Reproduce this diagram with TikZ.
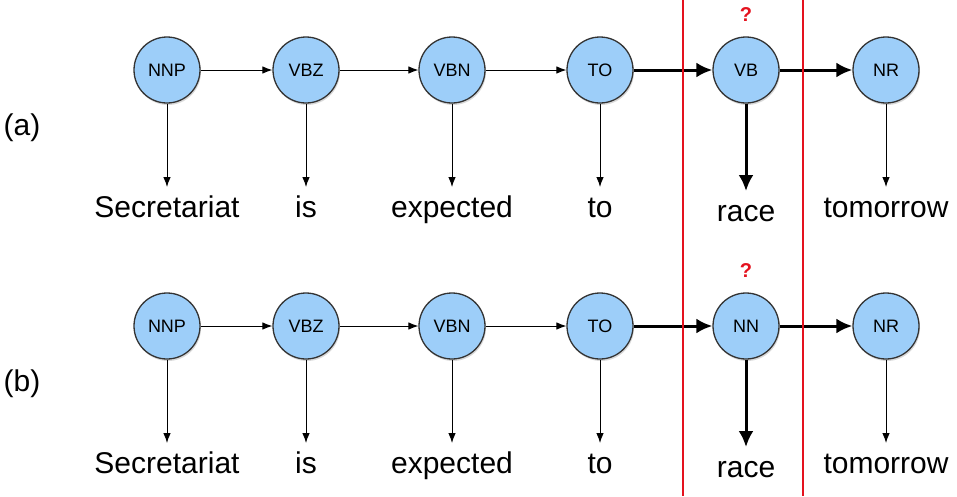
\documentclass[tikz,border=0pt]{standalone}
\usepackage{fontspec}
\setmainfont{Liberation Sans}
\usetikzlibrary{positioning,arrows.meta,shadows}
\definecolor{tagblue}{RGB}{157,206,249}
\definecolor{boxred}{RGB}{228,18,30}
\tikzstyle{every node}=[font=\fontsize{30}{34}\selectfont]
\tikzstyle{tag} = [circle,draw=black!80,line width=1.3pt,fill=tagblue,minimum size=66pt,inner sep=0pt,font=\fontsize{18}{21}\selectfont,drop shadow={opacity=0.3,shadow xshift=1pt,shadow yshift=-2pt}]
\tikzstyle{word} = [anchor=base,inner sep=0pt,text height=21pt,text depth=6pt,outer sep=9pt]
\tikzstyle{query} = [text=boxred,font=\fontsize{20}{24}\selectfont\bfseries]
\tikzstyle{arrow} = [line width=0.9pt,-{Latex[length=10pt,width=7.5pt]}]
\tikzstyle{bigarrow} = [line width=3pt,-{Latex[length=16pt,width=15pt]}]
\tikzstyle{redline} = [boxred,line width=2.5pt]
\begin{document}
\begin{tikzpicture}[x=1pt,y=-1pt]
\useasboundingbox (0,0) rectangle (957,496);

\foreach \row/\y/\mid in {a/70/VB,b/326/NN}
{
\foreach \i/\x/\tg/\w in {1/167/NNP/Secretariat,2/306/VBZ/is,3/452/VBN/expected,4/600/TO/to,6/886/NR/tomorrow}
{\node[tag] (t\row\i) at (\x,\y) {\tg};
\node[word] (w\row\i) at (\x,\y+147) {\w};
\draw[arrow] (t\row\i) -- (w\row\i);}
\node[tag] (t\row5) at (746,\y) {\mid};
\node[word] (w\row5) at (746,\y+151) {race};
\draw[bigarrow] (t\row5) -- (w\row5);
\foreach \i/\j in {1/2,2/3,3/4}
{\draw[arrow] (t\row\i) -- (t\row\j);}
\draw[bigarrow] (t\row4) -- (t\row5);
\draw[bigarrow] (t\row5) -- (t\row6);
\node[query] (q\row) at (746,\y-55) {?};
\node (lab\row) at (22,\y+58) {(\row)};
}

\draw[redline] (683,0) -- (683,496);
\draw[redline] (803,0) -- (803,496);
\end{tikzpicture}
\end{document}
